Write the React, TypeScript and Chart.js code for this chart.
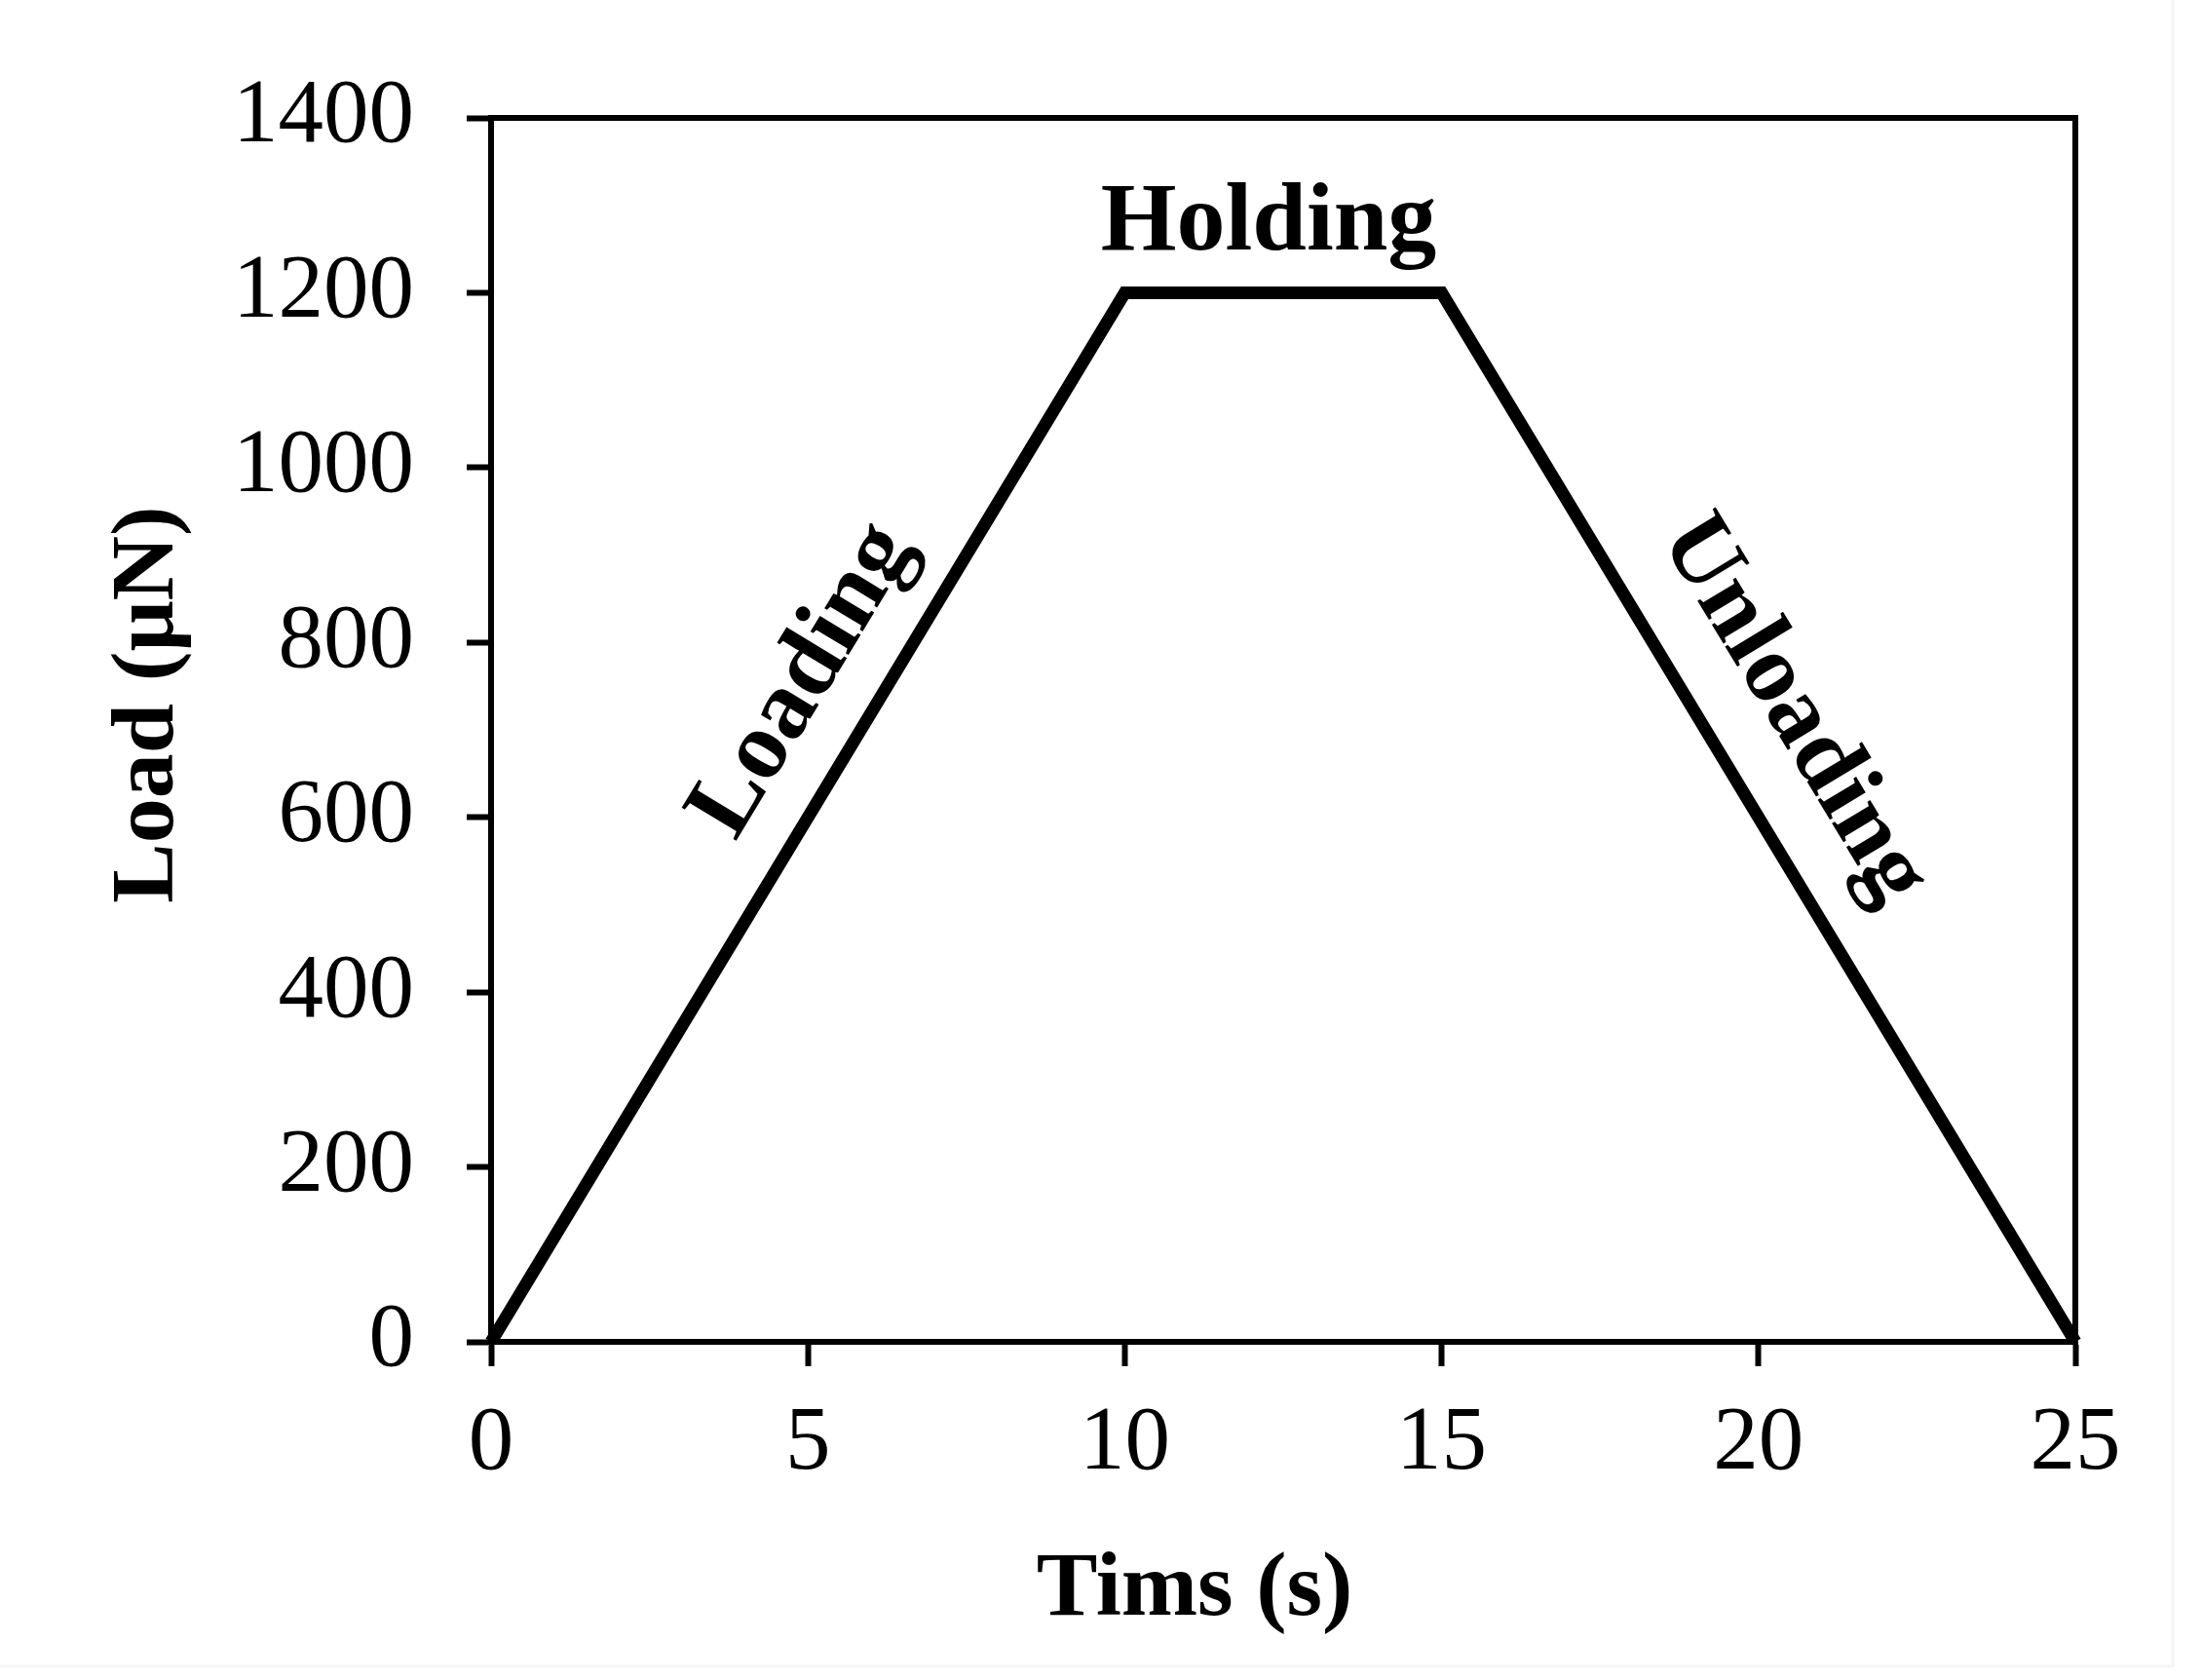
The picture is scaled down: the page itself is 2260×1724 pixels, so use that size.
import React, { useEffect, useRef } from "react";
import { Chart, registerables } from "chart.js";

Chart.register(...registerables);

// ---- data ----
const timeValues = [0, 10, 15, 25];
const loadValues = [0, 1200, 1200, 0];
const xTickValues = [0, 5, 10, 15, 20, 25];
const yTickValues = [0, 200, 400, 600, 800, 1000, 1200, 1400];
const xTitle = "Tims (s)";
const yTitle = "Load (μN)";
const phaseLabels = ["Loading", "Holding", "Unloading"];
const phaseX = [4.93, 12.27, 20.55];
const phaseY = [756, 1249, 722];

const FONT = "'Liberation Serif', 'Times New Roman', serif";

const overlayPlugin = {
  id: "overlay",
  afterDraw(chart: any) {
    const { ctx, chartArea, scales } = chart;
    const { left, right, top, bottom } = chartArea;
    const xs = scales.x;
    const ys = scales.y;
    ctx.save();
    // top & right frame lines
    ctx.strokeStyle = "#000";
    ctx.lineWidth = 6;
    ctx.lineCap = "square";
    ctx.beginPath();
    ctx.moveTo(left, top);
    ctx.lineTo(right, top);
    ctx.lineTo(right, bottom);
    ctx.stroke();

    // faint outer image border
    ctx.strokeStyle = "#f5f5f5";
    ctx.lineWidth = 3;
    ctx.beginPath();
    ctx.moveTo(2230, 0);
    ctx.lineTo(2230, 1710);
    ctx.lineTo(0, 1710);
    ctx.stroke();

    ctx.fillStyle = "#000";
    // x title
    ctx.font = `bold 94px ${FONT}`;
    ctx.textAlign = "center";
    ctx.textBaseline = "alphabetic";
    ctx.fillText(xTitle, left + 722, bottom + 280);
    // y title
    ctx.save();
    ctx.translate(177, top + 602);
    ctx.rotate(-Math.PI / 2);
    ctx.font = `bold 92px ${FONT}`;
    ctx.textAlign = "center";
    ctx.textBaseline = "alphabetic";
    ctx.fillText(yTitle, 0, 0);
    ctx.restore();

    // phase labels
    const segAngle = (i: number) => {
      const dx = xs.getPixelForValue(timeValues[i + 1]) - xs.getPixelForValue(timeValues[i]);
      const dy = ys.getPixelForValue(loadValues[i + 1]) - ys.getPixelForValue(loadValues[i]);
      return Math.atan2(dy, dx);
    };
    const angles = [segAngle(0), 0, segAngle(2)];
    ctx.font = `bold 100px ${FONT}`;
    phaseLabels.forEach((label, i) => {
      const px = xs.getPixelForValue(phaseX[i]);
      const py = ys.getPixelForValue(phaseY[i]);
      ctx.save();
      ctx.translate(px, py);
      ctx.rotate(angles[i]);
      ctx.textAlign = "center";
      ctx.textBaseline = i === 1 ? "alphabetic" : "middle";
      ctx.fillText(label, 0, 0);
      ctx.restore();
    });
    ctx.restore();
  },
};

export default function App() {
  const canvasRef = useRef<HTMLCanvasElement | null>(null);

  useEffect(() => {
    if (!canvasRef.current) return;
    const chart = new Chart(canvasRef.current, {
      type: "line",
      data: {
        datasets: [
          {
            data: timeValues.map((t, i) => ({ x: t, y: loadValues[i] })),
            borderColor: "#000",
            borderWidth: 13,
            pointRadius: 0,
            tension: 0,
            fill: false,
            borderJoinStyle: "miter",
            clip: false as any,
          },
        ],
      },
      options: {
        responsive: false,
        devicePixelRatio: 1,
        animation: false,
        layout: { padding: { left: 0, right: 130, top: 121, bottom: 0 } },
        plugins: {
          legend: { display: false },
          tooltip: { enabled: false },
        },
        scales: {
          x: {
            type: "linear",
            min: 0,
            max: 25,
            afterBuildTicks: (s: any) => {
              s.ticks = xTickValues.map((v) => ({ value: v }));
            },
            afterFit: (s: any) => {
              s.height = 347;
            },
            ticks: {
              color: "#000",
              font: { family: FONT, size: 93 },
              padding: 25,
              maxRotation: 0,
              autoSkip: false,
              callback: (v: any) => String(v),
            },
            grid: {
              drawOnChartArea: false,
              drawTicks: true,
              tickLength: 25,
              tickWidth: 6,
              tickColor: "#000",
            },
            border: { display: true, color: "#000", width: 6 },
          },
          y: {
            type: "linear",
            min: 0,
            max: 1400,
            afterBuildTicks: (s: any) => {
              s.ticks = yTickValues.map((v) => ({ value: v }));
            },
            afterFit: (s: any) => {
              s.width = 504;
            },
            ticks: {
              color: "#000",
              font: { family: FONT, size: 93 },
              padding: 54,
              autoSkip: false,
              callback: (v: any) => String(v),
            },
            grid: {
              drawOnChartArea: false,
              drawTicks: true,
              tickLength: 25,
              tickWidth: 6,
              tickColor: "#000",
            },
            border: { display: true, color: "#000", width: 6 },
          },
        },
      } as any,
      plugins: [overlayPlugin],
    });
    return () => chart.destroy();
  }, []);

  return (
    <div
      style={{
        position: "absolute",
        left: 0,
        top: 0,
        width: 2260,
        height: 1724,
        background: "#fff",
      }}
    >
      <canvas ref={canvasRef} width={2260} height={1724} style={{ display: "block" }} />
    </div>
  );
}
